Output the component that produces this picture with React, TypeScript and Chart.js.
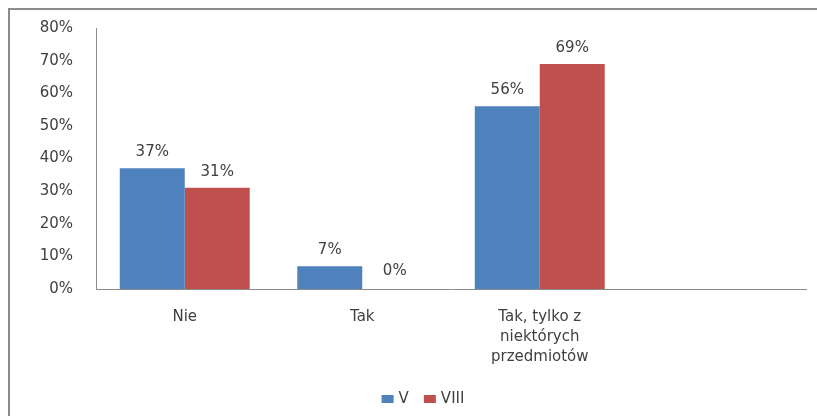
import React, { useEffect, useRef } from "react";
import { Chart, registerables } from "chart.js";

Chart.register(...registerables);

const categories: (string | string[])[] = ["Nie", "Tak", ["Tak, tylko z", "niektórych", "przedmiotów"], ""];
const seriesNames = ["V", "VIII"];
const seriesV: (number | null)[] = [0.37, 0.07, 0.56, null];
const seriesVIII: (number | null)[] = [0.31, 0.0, 0.69, null];
const yMin = 0;
const yMax = 0.8;
const yStep = 0.1;

const FONT = "'DejaVu Sans', sans-serif";
const FS = 15;
const TEXT = "#404040";
const BLUE = "#4F81BD";
const RED = "#C0504D";

const frame = {
  id: "frame",
  beforeDraw(chart: any) {
    const ctx = chart.ctx;
    ctx.save();
    ctx.fillStyle = "#ffffff";
    ctx.fillRect(0, 0, chart.width, chart.height);
    ctx.strokeStyle = "#8c8c8c";
    ctx.lineWidth = 2;
    ctx.beginPath();
    ctx.moveTo(9, chart.height);
    ctx.lineTo(9, 9);
    ctx.lineTo(chart.width, 9);
    ctx.stroke();
    ctx.restore();
  },
};

const valueLabels = {
  id: "valueLabels",
  afterDatasetsDraw(chart: any) {
    const ctx = chart.ctx;
    ctx.save();
    ctx.font = `${FS}px ${FONT}`;
    ctx.fillStyle = TEXT;
    ctx.textAlign = "center";
    ctx.textBaseline = "middle";
    chart.data.datasets.forEach((ds: any, i: number) => {
      const meta = chart.getDatasetMeta(i);
      meta.data.forEach((el: any, j: number) => {
        const v = ds.data[j];
        if (v === null || v === undefined) return;
        ctx.fillText(`${Math.round(v * 100)}%`, el.x, el.y - (v === 0 ? 18 : 16));
      });
    });
    ctx.restore();
  },
};

const customLegend = {
  id: "customLegend",
  afterDraw(chart: any) {
    const ctx = chart.ctx;
    ctx.save();
    ctx.font = `${FS}px ${FONT}`;
    ctx.textBaseline = "middle";
    ctx.textAlign = "left";
    const boxW = 12;
    const boxH = 8;
    const gapBoxText = 5;
    const gapItems = 15;
    const items = chart.data.datasets.map((ds: any) => ({
      label: ds.label,
      color: ds.backgroundColor,
      w: ctx.measureText(ds.label).width,
    }));
    const total = items.reduce((s: number, it: any) => s + boxW + gapBoxText + it.w, 0) + gapItems * (items.length - 1);
    let x = 423 - total / 2;
    const cy = 399;
    items.forEach((it: any) => {
      ctx.fillStyle = it.color;
      ctx.fillRect(x, cy - boxH / 2, boxW, boxH);
      x += boxW + gapBoxText;
      ctx.fillStyle = TEXT;
      ctx.fillText(it.label, x, cy);
      x += it.w + gapItems;
    });
    ctx.restore();
  },
};

export default function App() {
  const ref = useRef<HTMLCanvasElement>(null);
  useEffect(() => {
    if (!ref.current) return;
    const chart = new Chart(ref.current, {
      type: "bar",
      data: {
        labels: categories as any,
        datasets: [
          { label: seriesNames[0], data: seriesV, backgroundColor: BLUE, borderWidth: 0 },
          { label: seriesNames[1], data: seriesVIII, backgroundColor: RED, borderWidth: 0 },
        ],
      },
      options: {
        responsive: false,
        animation: false,
        devicePixelRatio: 1,
        layout: { padding: { top: 28, right: 11, left: 0, bottom: 0 } },
        datasets: {
          bar: { categoryPercentage: 0.732, barPercentage: 1 },
        } as any,
        plugins: {
          legend: { display: false },
          tooltip: { enabled: false },
        },
        scales: {
          x: {
            grid: { display: false, drawTicks: false, tickLength: 0 },
            border: { display: true, color: "#8c8c8c", width: 1 },
            ticks: {
              font: { family: FONT, size: FS, lineHeight: "20px" as any },
              color: TEXT,
              padding: 18,
              maxRotation: 0,
              autoSkip: false,
            },
            afterFit(scale: any) {
              scale.height = 416 - 289;
            },
          },
          y: {
            min: yMin,
            max: yMax,
            grid: { display: false, drawTicks: false, tickLength: 0 },
            border: { display: true, color: "#8c8c8c", width: 1 },
            ticks: {
              stepSize: yStep,
              font: { family: FONT, size: FS },
              color: TEXT,
              padding: 23,
              callback: (v: any) => `${Math.round(Number(v) * 100)}%`,
            },
            afterFit(scale: any) {
              scale.width = 96;
              scale.paddingTop = 0;
              scale.paddingBottom = 0;
            },
          },
        },
      },
      plugins: [frame, valueLabels, customLegend],
    });
    return () => chart.destroy();
  }, []);
  return (
    <div style={{ position: "absolute", left: 0, top: 0, width: 817, height: 416 }}>
      <canvas ref={ref} width={817} height={416} />
    </div>
  );
}
